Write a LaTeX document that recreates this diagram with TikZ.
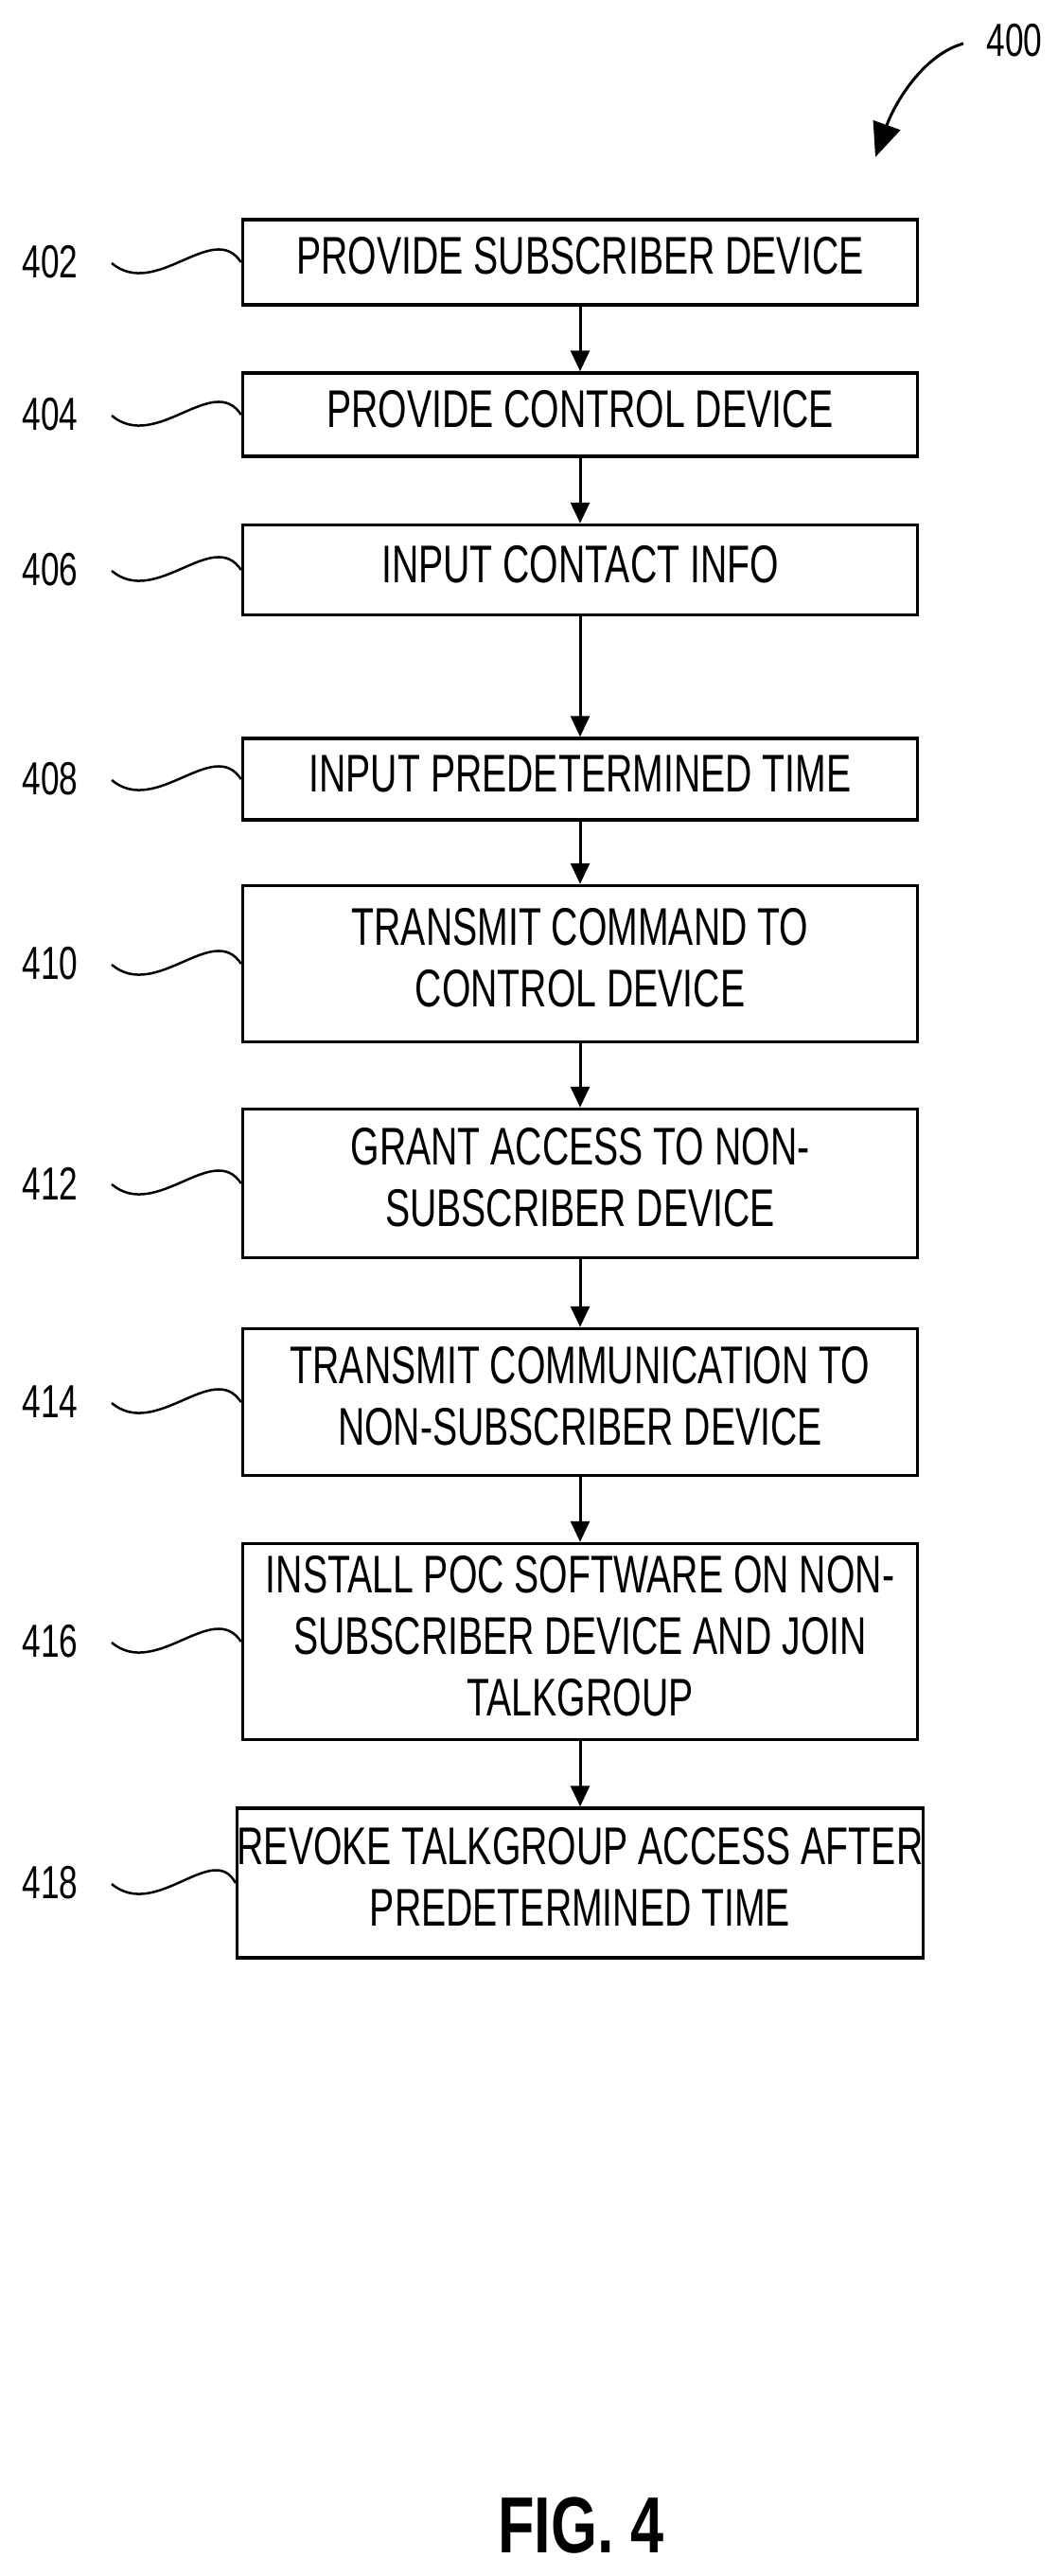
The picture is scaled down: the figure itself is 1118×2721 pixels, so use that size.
\documentclass[tikz,border=0pt]{standalone}
\usepackage{fontspec}
\setmainfont{Liberation Sans}
\usetikzlibrary{arrows.meta}
\newcommand{\bt}[1]{\scalebox{0.7}[1]{\fontsize{56}{65}\selectfont\begin{tabular}{@{}c@{}}#1\end{tabular}}}
\newcommand{\lt}[1]{\scalebox{0.72}[1]{\fontsize{49}{55}\selectfont #1}}
\begin{document}
\begin{tikzpicture}[x=1pt,y=-1pt,
  box/.style={draw,line width=3.5pt,minimum width=713pt,inner sep=0pt,anchor=center},
  arr/.style={line width=3pt,-{Triangle[width=20pt,length=22pt]}},
  wave/.style={line width=2.5pt},
  lab/.style={inner sep=0pt}]
\useasboundingbox (0,0) rectangle (1118,2721);
\node[box,minimum height=90pt] (b402) at (613,277) {\bt{PROVIDE SUBSCRIBER DEVICE}};
\node[box,minimum height=88pt] (b404) at (613,438) {\bt{PROVIDE CONTROL DEVICE}};
\node[box,minimum height=95pt] (b406) at (613,602) {\bt{INPUT CONTACT INFO}};
\node[box,minimum height=86pt] (b408) at (613,823) {\bt{INPUT PREDETERMINED TIME}};
\node[box,minimum height=165pt] (b410) at (613,1018) {\bt{TRANSMIT COMMAND TO\\CONTROL DEVICE}};
\node[box,minimum height=157pt] (b412) at (613,1250) {\bt{GRANT ACCESS TO NON-\\SUBSCRIBER DEVICE}};
\node[box,minimum height=155pt] (b414) at (613,1481) {\bt{TRANSMIT COMMUNICATION TO\\NON-SUBSCRIBER DEVICE}};
\node[box,minimum height=207pt] (b416) at (613,1734) {\bt{INSTALL POC SOFTWARE ON NON-\\SUBSCRIBER DEVICE AND JOIN\\TALKGROUP}};
\node[box,minimum height=158pt] (b418) at (613,1989) {\bt{REVOKE TALKGROUP ACCESS AFTER\\PREDETERMINED TIME}};
\foreach \a/\b in {b402/b404,b404/b406,b406/b408,b408/b410,b410/b412,b412/b414,b414/b416,b416/b418}
  \draw[arr] (\a.south) -- (\b.north);
\foreach \n/\y in {402/277,404/438,406/602,408/823,410/1018,412/1250,414/1481,416/1734,418/1989}{
  \node[lab] (l\n) at (53,\y) {\lt{\n}};
  \coordinate (w\n) at (118,\y+1);
  \draw[wave] (w\n) .. controls (165,\y+40) and (225,\y-45) .. (b\n.west);
}
\node[lab] (l400) at (1072,43) {\lt{400}};
\coordinate (s400) at (1018,46);
\draw[line width=3pt,-{Triangle[width=30pt,length=36pt]}] (s400) .. controls (975,58) and (945,110) .. (925,166);
\node[lab] (fig) at (614,2668) {\scalebox{0.75}[1]{\fontsize{84}{90}\selectfont\bfseries FIG. 4}};
\end{tikzpicture}
\end{document}
